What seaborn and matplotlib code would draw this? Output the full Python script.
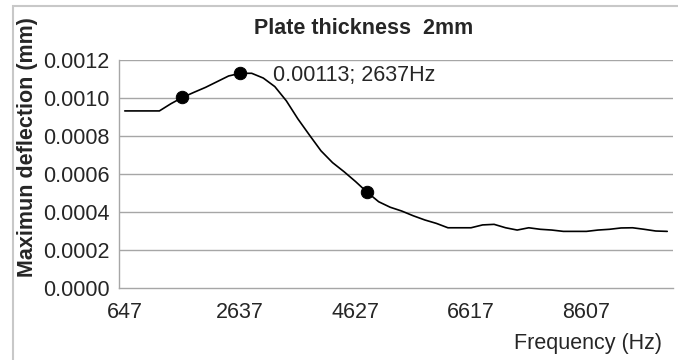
import numpy as np
import pandas as pd
import matplotlib
matplotlib.use("Agg")
import matplotlib.pyplot as plt
from matplotlib.patches import Rectangle
import seaborn as sns

# Frequencies (Hz) – one point every 199 Hz from 647 to 10000
freq = [647 + 199 * i for i in range(48)]

# Maximum deflection (mm)
deflection = [
    0.000932, 0.000932, 0.000932, 0.000932, 0.000970, 0.001003, 0.001030, 0.001056,
    0.001086, 0.001116, 0.001130, 0.001130, 0.001105, 0.001060, 0.000985, 0.000890,
    0.000805, 0.000722, 0.000660, 0.000612, 0.000560, 0.000504, 0.000454, 0.000425,
    0.000405, 0.000380, 0.000358, 0.000340, 0.000317, 0.000317, 0.000317, 0.000332,
    0.000335, 0.000317, 0.000305, 0.000317, 0.000309, 0.000305, 0.000298, 0.000298,
    0.000298, 0.000305, 0.000309, 0.000316, 0.000317, 0.000309, 0.000300, 0.000298,
]

# highlighted points
marker_freq = [1642, 2637, 4826]
marker_defl = [0.001003, 0.00113, 0.000504]

tick_freq = [647, 2637, 4627, 6617, 8607]
ytick_vals = [0.0, 0.0002, 0.0004, 0.0006, 0.0008, 0.0010, 0.0012]

df = pd.DataFrame({"Frequency": freq, "Deflection": deflection})
pts = pd.DataFrame({"Frequency": marker_freq, "Deflection": marker_defl})

sns.set_style("white")
plt.rcParams["font.family"] = ["Liberation Sans", "DejaVu Sans"]
fs = 15.5

fig = plt.figure(figsize=(6.78, 3.6), dpi=100)
ax = fig.add_axes([119 / 678, 1 - 288 / 360, (673 - 119) / 678, (288 - 60) / 360])

sns.lineplot(data=df, x="Frequency", y="Deflection", ax=ax, color="black", linewidth=1.2)
sns.scatterplot(data=pts, x="Frequency", y="Deflection", ax=ax, color="black", s=80,
                edgecolor="black", zorder=5)

ax.set_xlim(547.5, 10099.5)
ax.set_ylim(0, 0.0012)

grid_c = "#a6a6a6"
ax.set_yticks(ytick_vals)
ax.set_yticklabels([f"{v:.4f}" for v in ytick_vals], fontsize=fs)
for v in ytick_vals[1:]:
    ax.axhline(v, color=grid_c, linewidth=1, zorder=0)

# tick marks on category boundaries, labels on category centres
ax.set_xticks([f - 99.5 for f in tick_freq])
ax.set_xticklabels([])
ax.set_xticks(tick_freq, minor=True)
ax.set_xticklabels([str(f) for f in tick_freq], minor=True, fontsize=fs)
ax.tick_params(axis="x", which="major", direction="inout", length=8, color=grid_c)
ax.tick_params(axis="x", which="minor", length=0, pad=10)
ax.tick_params(axis="y", direction="out", length=5, color=grid_c, pad=2)

for s in ["top", "right"]:
    ax.spines[s].set_visible(False)
for s in ["left", "bottom"]:
    ax.spines[s].set_color(grid_c)
    ax.spines[s].set_linewidth(1)

ax.set_xlabel("")
ax.set_ylabel("")

ax.annotate("0.00113; 2637Hz", xy=(2637, 0.00113), xytext=(273, 284),
            textcoords="figure pixels", fontsize=fs, va="center", ha="left")

fig.text(364 / 678, 1 - 28 / 360, "Plate thickness  2mm", ha="center", va="center",
         fontsize=fs, fontweight="bold")
fig.text(28 / 678, 1 - 147 / 360, "Maximun deflection (mm)", ha="center", va="center",
         rotation=90, fontsize=fs, fontweight="bold")
fig.text(662 / 678, 1 - 343 / 360, "Frequency (Hz)", ha="right", va="center", fontsize=fs)

fig.patches.append(Rectangle((13 / 678, -0.05), 1.0, 1 - 6 / 360 + 0.05,
                             transform=fig.transFigure, fill=False,
                             edgecolor="#c8c8c8", linewidth=1.5))

fig.savefig("out.png", dpi=100)
